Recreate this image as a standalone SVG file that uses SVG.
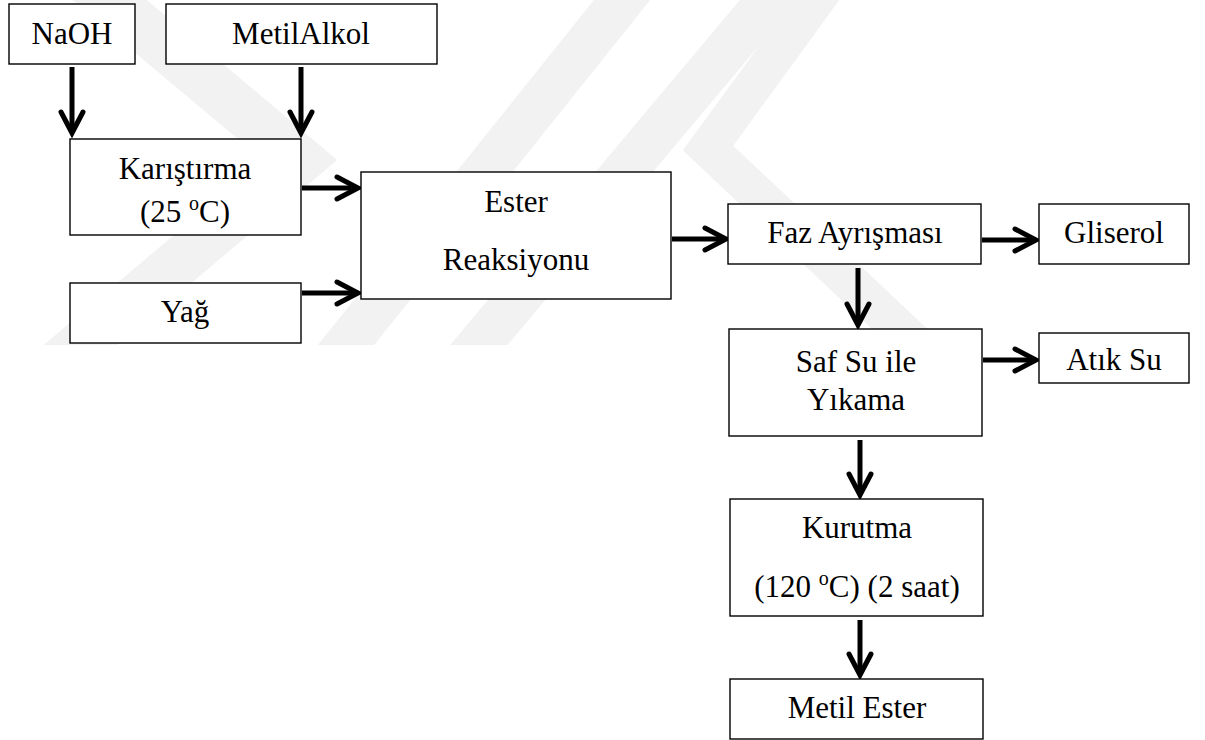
<svg xmlns="http://www.w3.org/2000/svg" width="1205" height="740" viewBox="0 0 1205 740">
  <defs>
    <style>
      .box { fill: #ffffff; stroke: #000000; stroke-width: 1.4; }
      .lbl { font-family: "Liberation Serif", "Times New Roman", serif; font-size: 31px; fill: #000000; text-anchor: middle; }
      .sup { font-size: 20px; }
      .wire { fill: none; stroke: #000000; stroke-width: 5; marker-end: url(#arr); }
      .wm { fill: none; stroke: #f2f2f2; stroke-linejoin: miter; stroke-miterlimit: 10; }
    </style>
    <marker id="arr" markerUnits="userSpaceOnUse" markerWidth="40" markerHeight="40" viewBox="-30 -20 40 40" refX="0" refY="0" orient="auto">
      <path d="M -21 -11 L 0 0 L -21 11" fill="none" stroke="#000000" stroke-width="5" stroke-linecap="round" stroke-linejoin="miter"/>
    </marker>
    <clipPath id="wmclip">
      <rect x="0" y="0" width="1205" height="345"/>
    </clipPath>
  </defs>
  <rect x="0" y="0" width="1205" height="740" fill="#ffffff"/>

  <g id="watermark" clip-path="url(#wmclip)">
    <polyline class="wm" stroke-width="48" points="62,-40 300,160 -8,420"/>
    <line class="wm" stroke-width="44" x1="290" y1="415" x2="650" y2="-35"/>
    <line class="wm" stroke-width="44" x1="420" y1="415" x2="798" y2="-35"/>
    <polyline class="wm" stroke-width="38" points="845,-40 708,148 975,400"/>
  </g>

  <g id="connectors">
    <line class="wire" x1="72" y1="67" x2="72" y2="133"/>
    <line class="wire" x1="301" y1="67" x2="301" y2="133"/>
    <line class="wire" x1="302" y1="188" x2="358" y2="188"/>
    <line class="wire" x1="302" y1="293" x2="358" y2="293"/>
    <line class="wire" x1="672" y1="239" x2="726" y2="239"/>
    <line class="wire" x1="982" y1="240" x2="1036" y2="240"/>
    <line class="wire" x1="858" y1="268" x2="858" y2="325"/>
    <line class="wire" x1="983" y1="360" x2="1036" y2="360"/>
    <line class="wire" x1="860" y1="440" x2="860" y2="495"/>
    <line class="wire" x1="860" y1="620" x2="860" y2="675"/>
  </g>

  <g id="naoh">
    <rect class="box" x="9" y="4" width="126" height="60"/>
    <text class="lbl" x="72" y="44">NaOH</text>
  </g>
  <g id="metilalkol">
    <rect class="box" x="166" y="4" width="271" height="60"/>
    <text class="lbl" x="301" y="44">MetilAlkol</text>
  </g>
  <g id="karistirma">
    <rect class="box" x="70" y="139" width="231" height="96"/>
    <text class="lbl" x="185" y="179">Karıştırma</text>
    <text class="lbl" x="185" y="222">(25 <tspan class="sup" dy="-12">o</tspan><tspan dy="12">C)</tspan></text>
  </g>
  <g id="yag">
    <rect class="box" x="70" y="283" width="231" height="60"/>
    <text class="lbl" x="185" y="322">Yağ</text>
  </g>
  <g id="ester">
    <rect class="box" x="361" y="172" width="310" height="127"/>
    <text class="lbl" x="516" y="212">Ester</text>
    <text class="lbl" x="516" y="270">Reaksiyonu</text>
  </g>
  <g id="faz">
    <rect class="box" x="728" y="204" width="253" height="60"/>
    <text class="lbl" x="855" y="243">Faz Ayrışması</text>
  </g>
  <g id="gliserol">
    <rect class="box" x="1039" y="204" width="150" height="60"/>
    <text class="lbl" x="1114" y="243">Gliserol</text>
  </g>
  <g id="saf">
    <rect class="box" x="729" y="329" width="253" height="107"/>
    <text class="lbl" x="856" y="372">Saf Su ile</text>
    <text class="lbl" x="856" y="410">Yıkama</text>
  </g>
  <g id="atiksu">
    <rect class="box" x="1039" y="333" width="150" height="50"/>
    <text class="lbl" x="1114" y="370">Atık Su</text>
  </g>
  <g id="kurutma">
    <rect class="box" x="730" y="499" width="253" height="117"/>
    <text class="lbl" x="857" y="538">Kurutma</text>
    <text class="lbl" x="857" y="597">(120 <tspan class="sup" dy="-12">o</tspan><tspan dy="12">C) (2 saat)</tspan></text>
  </g>
  <g id="metilester">
    <rect class="box" x="730" y="679" width="253" height="60"/>
    <text class="lbl" x="857" y="718">Metil Ester</text>
  </g>
</svg>
